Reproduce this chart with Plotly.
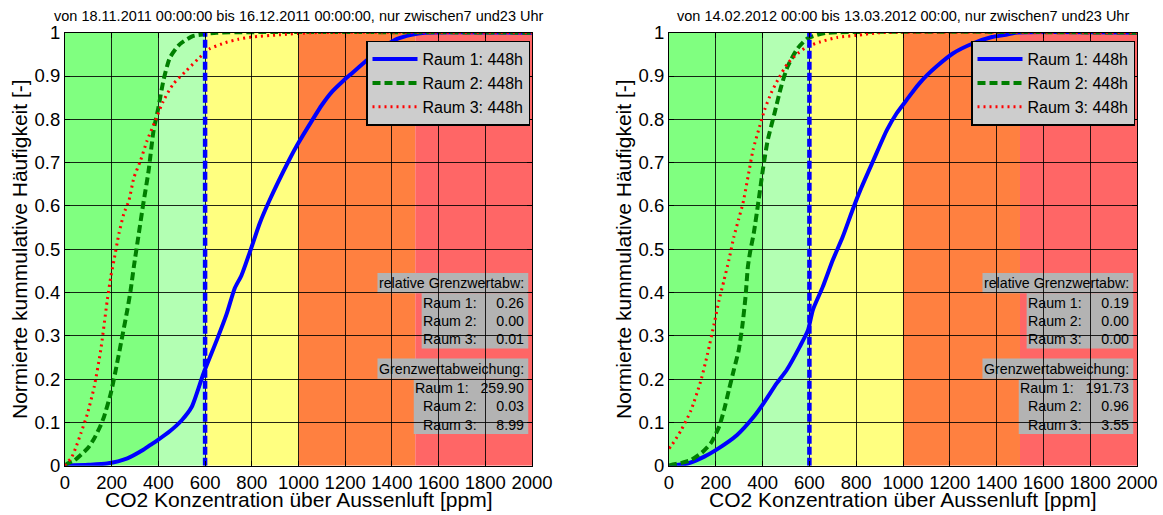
import plotly.graph_objects as go

# ---- axis ticks -------------------------------------------------------------
ppm_ticks = [0, 200, 400, 600, 800, 1000, 1200, 1400, 1600, 1800, 2000]
frac_ticks = [0, 0.1, 0.2, 0.3, 0.4, 0.5, 0.6, 0.7, 0.8, 0.9, 1]
frac_labels = ["0", "0.1", "0.2", "0.3", "0.4", "0.5", "0.6", "0.7", "0.8", "0.9", "1"]

# ---- comfort zones (ppm above outside air) ---------------------------------
zone_edges = [0, 400, 600, 1000, 1500, 2000]
zone_colors = ["#80ff80", "#b3ffb3", "#ffff80", "#ff8040", "#ff6666"]
limit_ppm = 600

room_names = ["Raum 1", "Raum 2", "Raum 3"]
room_hours = [448, 448, 448]

titles = [
    "von 18.11.2011 00:00:00 bis 16.12.2011 00:00:00, nur zwischen7 und23 Uhr",
    "von 14.02.2012 00:00 bis 13.03.2012 00:00, nur zwischen7 und23 Uhr",
]
x_title = "CO2 Konzentration über Aussenluft [ppm]"
y_title = "Normierte kummulative Häufigkeit [-]"

# ---- period 1: cumulative distributions ------------------------------------
p1_room1_ppm = [0, 100, 180, 267, 330, 366, 394, 450, 500, 543, 593, 650, 692, 727, 756,
                799, 834, 876, 960, 995, 1059, 1100, 1144, 1190, 1228, 1290, 1342, 1420,
                1483, 1540, 2000]
p1_room1_cdf = [0, 0.002, 0.005, 0.017, 0.035, 0.048, 0.058, 0.08, 0.105, 0.136, 0.213,
                0.29, 0.35, 0.41, 0.44, 0.505, 0.56, 0.613, 0.706, 0.741, 0.798, 0.833,
                0.864, 0.888, 0.906, 0.935, 0.96, 0.985, 0.995, 1.0, 1.0]

p1_room2_ppm = [0, 11, 40, 68, 100, 125, 150, 167, 196, 217, 245, 267, 281, 295, 316, 335,
                358, 379, 400, 421, 449, 491, 547, 589, 650, 2000]
p1_room2_cdf = [0, 0.005, 0.012, 0.025, 0.042, 0.063, 0.09, 0.113, 0.167, 0.22, 0.298,
                0.36, 0.405, 0.46, 0.536, 0.604, 0.681, 0.773, 0.827, 0.888, 0.942,
                0.973, 0.992, 0.996, 1.0, 1.0]

p1_room3_ppm = [0, 4, 26, 45, 68, 96, 125, 153, 181, 196, 210, 231, 252, 274, 295, 323,
                351, 386, 421, 463, 519, 575, 617, 687, 743, 800, 917, 1060, 2000]
p1_room3_cdf = [0, 0.005, 0.017, 0.04, 0.075, 0.12, 0.182, 0.267, 0.382, 0.436, 0.475,
                0.536, 0.582, 0.613, 0.665, 0.704, 0.75, 0.796, 0.842, 0.881, 0.912,
                0.942, 0.962, 0.977, 0.985, 0.99, 0.995, 1.0, 1.0]

# ---- period 2: cumulative distributions ------------------------------------
p2_room1_ppm = [0, 80, 151, 200, 291, 362, 404, 460, 503, 559, 594, 615, 657, 700, 742,
                784, 818, 874, 931, 973, 1016, 1045, 1072, 1105, 1143, 1213, 1298, 1380,
                1439, 1480, 2000]
p2_room1_cdf = [0, 0.005, 0.021, 0.036, 0.071, 0.113, 0.144, 0.19, 0.221, 0.275, 0.313,
                0.36, 0.413, 0.475, 0.528, 0.59, 0.637, 0.706, 0.775, 0.814, 0.845,
                0.866, 0.884, 0.903, 0.922, 0.952, 0.975, 0.99, 0.995, 1.0, 1.0]

p2_room2_ppm = [0, 10, 50, 94, 140, 179, 214, 235, 256, 277, 298, 313, 327, 337, 348, 362,
                383, 401, 422, 451, 479, 507, 550, 592, 634, 680, 2000]
p2_room2_cdf = [0, 0.002, 0.006, 0.013, 0.03, 0.052, 0.09, 0.128, 0.175, 0.221, 0.267,
                0.321, 0.39, 0.459, 0.498, 0.536, 0.613, 0.683, 0.752, 0.814, 0.875,
                0.922, 0.964, 0.987, 0.995, 1.0, 1.0]

p2_room3_ppm = [0, 10, 52, 94, 137, 165, 193, 214, 235, 256, 277, 298, 316, 338, 359, 387,
                408, 436, 465, 507, 550, 592, 648, 719, 804, 900, 2000]
p2_room3_cdf = [0.04, 0.046, 0.082, 0.128, 0.198, 0.259, 0.328, 0.382, 0.428, 0.475, 0.528,
                0.57, 0.606, 0.668, 0.729, 0.783, 0.821, 0.86, 0.891, 0.929, 0.952,
                0.968, 0.979, 0.989, 0.994, 1.0, 1.0]

# ---- limit statistics -------------------------------------------------------
p1_rel_dev = [0.26, 0.00, 0.01]
p1_abs_dev = [259.90, 0.03, 8.99]
p2_rel_dev = [0.19, 0.00, 0.00]
p2_abs_dev = [191.73, 0.96, 3.55]

periods = [
    dict(curves=[(p1_room1_ppm, p1_room1_cdf), (p1_room2_ppm, p1_room2_cdf),
                 (p1_room3_ppm, p1_room3_cdf)],
         rel=p1_rel_dev, abs=p1_abs_dev, title=titles[0]),
    dict(curves=[(p2_room1_ppm, p2_room1_cdf), (p2_room2_ppm, p2_room2_cdf),
                 (p2_room3_ppm, p2_room3_cdf)],
         rel=p2_rel_dev, abs=p2_abs_dev, title=titles[1]),
]

# ---- styling ----------------------------------------------------------------
W, H = 1163, 515
FONT = "Liberation Sans, Arial, sans-serif"
x_domains = [[65 / W, 532 / W], [669 / W, 1137 / W]]
y_domain = [(H - 465.7) / H, (H - 32.7) / H]
line_styles = [
    dict(color="#0000ff", width=4, shape="spline", smoothing=0.6),
    dict(color="#007f00", width=4, dash="8px,4px", shape="spline", smoothing=0.6),
    dict(color="#ff0000", width=3, dash="2px,4px", shape="spline", smoothing=0.6),
]
stat_font = 14.2

# approximate Arial advance widths (em) for box sizing
_adv = {"R": 0.722, "G": 0.778, "a": 0.556, "u": 0.556, "m": 0.833, "r": 0.333,
        "e": 0.556, "l": 0.222, "t": 0.278, "i": 0.222, "v": 0.5, "n": 0.556,
        "z": 0.5, "w": 0.722, "b": 0.556, "c": 0.5, "h": 0.556, "g": 0.556,
        ":": 0.278, ".": 0.278, " ": 0.278, "\u00a0": 0.278}


def text_px(s, size):
    return sum(_adv.get(ch, 0.556) for ch in s) * size


fig = go.Figure()
shapes = []
annotations = []

for k, per in enumerate(periods):
    sfx = "" if k == 0 else str(k + 1)
    xa, ya = "x" + sfx, "y" + sfx
    leg = "legend" if k == 0 else "legend2"
    ax_w = (x_domains[k][1] - x_domains[k][0]) * W
    px_per_ppm = ax_w / (ppm_ticks[-1] - ppm_ticks[0])

    # background zones
    for z0, z1, col in zip(zone_edges[:-1], zone_edges[1:], zone_colors):
        shapes.append(dict(type="rect", xref=xa, yref=ya, x0=z0, x1=z1, y0=0, y1=1,
                           fillcolor=col, line_width=0, layer="below"))

    # cumulative curves
    for i, (xs, ys) in enumerate(per["curves"]):
        fig.add_trace(go.Scatter(
            x=xs, y=ys, mode="lines", line=line_styles[i],
            name=f"{room_names[i]}: {room_hours[i]}h",
            xaxis=xa, yaxis=ya, legend=leg, hoverinfo="skip"))

    # limit line
    fig.add_trace(go.Scatter(
        x=[limit_ppm, limit_ppm], y=[0, 1], mode="lines",
        line=dict(color="#0000ff", width=4.5, dash="8px,3px"),
        showlegend=False, xaxis=xa, yaxis=ya, hoverinfo="skip"))

    # statistics blocks
    text_right = 1973
    box_right = 1984
    header_h, row_h = 0.047, 0.0425
    blocks = [("relative Grenzwertabw:", per["rel"], 0.445),
              ("Grenzwertabweichung:", per["abs"], 0.2476)]
    for header, vals, top in blocks:
        rows = [f"{room_names[i]}: {v:8.2f}".replace(" ", "\u00a0")
                for i, v in enumerate(vals)]
        hw = text_px(header, stat_font) / px_per_ppm
        rw = max(text_px(r, stat_font) for r in rows) / px_per_ppm
        pad = 3 / px_per_ppm
        shapes.append(dict(type="rect", xref=xa, yref=ya,
                           x0=text_right - hw - pad, x1=box_right,
                           y0=top - header_h, y1=top,
                           fillcolor="#b3b3b3", line_width=0, layer="below"))
        shapes.append(dict(type="rect", xref=xa, yref=ya,
                           x0=text_right - rw - pad, x1=box_right,
                           y0=top - header_h - 3 * row_h, y1=top - header_h,
                           fillcolor="#b3b3b3", line_width=0, layer="below"))
        annotations.append(dict(xref=xa, yref=ya, x=text_right, y=top - header_h / 2,
                                text=header, showarrow=False, xanchor="right",
                                yanchor="middle", font=dict(size=stat_font, color="#000")))
        for j, r in enumerate(rows):
            annotations.append(dict(xref=xa, yref=ya, x=text_right,
                                    y=top - header_h - (j + 0.5) * row_h,
                                    text=r, showarrow=False, xanchor="right",
                                    yanchor="middle",
                                    font=dict(size=stat_font, color="#000")))

    cx = (x_domains[k][0] + x_domains[k][1]) / 2
    annotations.append(dict(xref="paper", yref="paper", x=cx, y=(H - 16) / H,
                            text=per["title"], showarrow=False, xanchor="center",
                            yanchor="middle", font=dict(size=14.5, color="#000")))
    annotations.append(dict(xref="paper", yref="paper", x=cx, y=(H - 499.5) / H,
                            text=x_title, showarrow=False, xanchor="center",
                            yanchor="middle", font=dict(size=21, color="#000")))
    annotations.append(dict(xref="paper", yref="paper",
                            x=(x_domains[k][0] * W - 46) / W, y=(H - 249) / H,
                            text=y_title, textangle=-90,
                            showarrow=False, xanchor="center", yanchor="middle",
                            font=dict(size=21, color="#000")))

axis_common = dict(showgrid=True, gridcolor="rgba(0,0,0,0.85)", gridwidth=1,
                   showline=True, linecolor="#000", linewidth=1, mirror="ticks",
                   ticks="inside", ticklen=5, tickcolor="#000", zeroline=False,
                   automargin=False, tickfont=dict(size=18.5, color="#000"))

layout = dict(
    template="none",
    width=W, height=H, margin=dict(l=0, r=0, t=0, b=0, autoexpand=False),
    paper_bgcolor="#ffffff", plot_bgcolor="#ffffff",
    font=dict(family=FONT, color="#000"),
    shapes=shapes, annotations=annotations,
)
for k in range(2):
    sfx = "" if k == 0 else str(k + 1)
    layout["xaxis" + sfx] = dict(axis_common, domain=x_domains[k], range=[0, 2000],
                                 tickvals=ppm_ticks, anchor="y" + sfx)
    layout["yaxis" + sfx] = dict(axis_common, domain=y_domain, range=[0, 1],
                                 tickvals=frac_ticks, ticktext=frac_labels,
                                 anchor="x" + sfx)
    right_px = x_domains[k][1] * W - 2
    layout["legend" if k == 0 else "legend2"] = dict(
        x=right_px / W, y=(H - 40.7) / H, xanchor="right", yanchor="top",
        bgcolor="#cdcdcd", bordercolor="#000", borderwidth=1.5,
        font=dict(size=16, color="#000"), itemwidth=45, tracegroupgap=0,
        entrywidth=144)

fig.update_layout(**layout)
fig.write_html("out.html")
